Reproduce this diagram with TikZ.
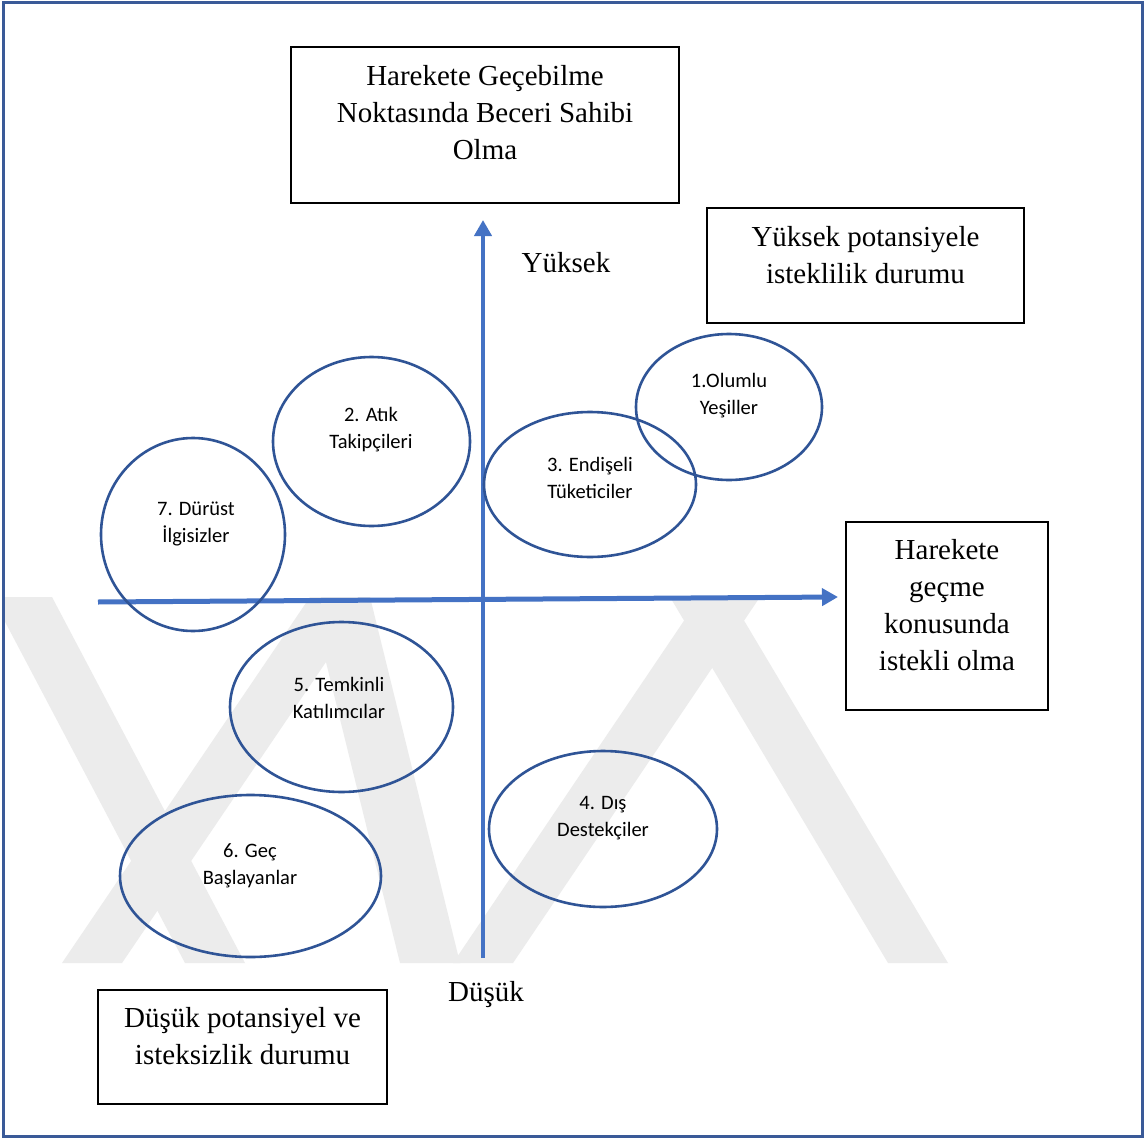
\documentclass[tikz,border=0pt]{standalone}
\usepackage{fontspec}
\setmainfont{Liberation Serif}
\newfontfamily\calfont{Carlito}
\usetikzlibrary{shapes.geometric,arrows.meta}
\definecolor{axisblue}{HTML}{4472C4}
\definecolor{ringblue}{HTML}{2F5496}
\definecolor{frameblue}{HTML}{3A5A98}
\definecolor{markgray}{HTML}{ECECEC}
% one slanted background band: top centre x, bottom centre x
\newcommand\wmband[2]{\fill[band] (#1-30,597) -- (#1+30,597) -- (#2+30,963) -- (#2-30,963) -- cycle;}
\begin{document}
\begin{tikzpicture}[x=1pt,y=-1pt,
  box/.style={draw=black,line width=1.8pt,fill=white,inner sep=0pt},
  boxtext/.style={align=center,font=\fontsize{29}{37}\selectfont,inner sep=0pt},
  ring/.style={ellipse,draw=ringblue,line width=2.6pt,inner sep=0pt},
  ringtext/.style={align=center,font=\calfont\fontsize{20.5}{27}\selectfont,inner sep=0pt},
  axis/.style={draw=axisblue,line width=4pt,-{Triangle[length=16pt,width=17pt]}},
  band/.style={fill=markgray}]
\useasboundingbox (0,0) rectangle (1146,1140);
\fill[white] (0,0) rectangle (1146,1140);

% background bands
\begin{scope}
  \clip (5,597) rectangle (1140,963);
  \wmband{22}{215}
  \wmband{340}{92}
  \wmband{340}{430}
  \wmband{730}{483}
  \wmband{700}{918}
\end{scope}

% outer frame
\draw[frameblue,line width=3pt] (3.5,2.5) rectangle (1142.5,1136.5);

% axes
\coordinate (vlow) at (483,958);
\coordinate (vhigh) at (483,220);
\draw[axis] (vlow) -- (vhigh);
\coordinate (hleft) at (98,602);
\coordinate (hright) at (838,597);
\draw[axis,line width=5pt] (hleft) -- (hright);

\node[boxtext] (hi) at (566,263) {Yüksek};
\node[boxtext] (lo) at (486,995) {Düşük};

% segments
\node[ring,minimum width=186pt,minimum height=146pt] (g1) at (729,407) {};
\node[ringtext] (g1t) at (729,396) {1.Olumlu\\Yeşiller};

\node[ring,minimum width=197pt,minimum height=169pt] (g2) at (371.5,441.5) {};
\node[ringtext] (g2t) at (371,430) {2. Atık\\Takipçileri};

\node[ring,minimum width=212pt,minimum height=145pt] (g3) at (590,484.5) {};
\node[ringtext] (g3t) at (590,478) {3. Endişeli\\Tüketiciler};

\node[ring,minimum width=184pt,minimum height=193pt] (g7) at (193,534.5) {};
\node[ringtext] (g7t) at (196,524) {7. Dürüst\\İlgisizler};

\node[ring,minimum width=223pt,minimum height=170pt] (g5) at (341.5,707) {};
\node[ringtext] (g5t) at (339,698) {5. Temkinli\\Katılımcılar};

\node[ring,minimum width=228pt,minimum height=156pt] (g4) at (603,829) {};
\node[ringtext] (g4t) at (603,818) {4. Dış\\Destekçiler};

\node[ring,minimum width=261pt,minimum height=162pt] (g6) at (250.5,876) {};
\node[ringtext] (g6t) at (250,866) {6. Geç\\Başlayanlar};

% boxes
\node[box,minimum width=388pt,minimum height=156pt] (top) at (485,125) {};
\node[boxtext] (topt) at (485,113) {Harekete Geçebilme\\Noktasında Beceri Sahibi\\Olma};

\node[box,minimum width=317pt,minimum height=115pt] (hh) at (865.5,265.5) {};
\node[boxtext] (hht) at (865.5,255) {Yüksek potansiyele\\isteklilik durumu};

\node[box,minimum width=202pt,minimum height=188pt] (rt) at (947,616) {};
\node[boxtext] (rtt) at (947,605.5) {Harekete\\geçme\\konusunda\\istekli olma};

\node[box,minimum width=289pt,minimum height=114pt] (ll) at (242.5,1047) {};
\node[boxtext] (llt) at (242.5,1036) {Düşük potansiyel ve\\isteksizlik durumu};
\end{tikzpicture}
\end{document}
